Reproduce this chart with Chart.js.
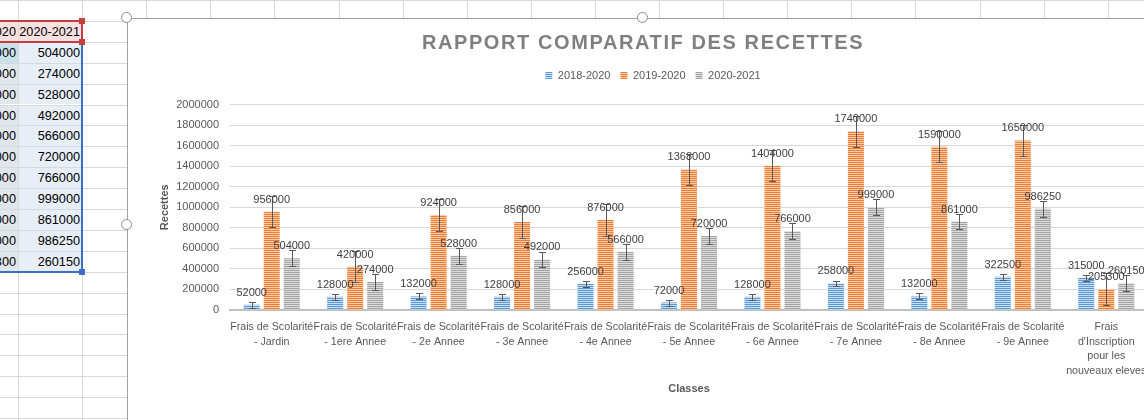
<!DOCTYPE html>
<html>
<head>
<meta charset="utf-8">
<script src="https://cdn.jsdelivr.net/npm/chart.js@4.4.1/dist/chart.umd.min.js"></script>
<style>
html,body{margin:0;padding:0;width:1144px;height:420px;overflow:hidden;background:#fff;font-family:'Liberation Sans',Arial,sans-serif;}
#sheet{position:absolute;left:0;top:0;width:1144px;height:420px;z-index:0;}
.gl{position:absolute;background:#D9D9D9;}
.cell{position:absolute;box-sizing:border-box;font-size:12.7px;color:#000;text-align:right;padding-right:2px;overflow:hidden;white-space:nowrap;}
#chartBox{position:absolute;left:127px;top:18px;width:1032px;height:414px;background:#fff;z-index:2;}
#chartBox canvas{position:absolute;left:0;top:0;}
.frame{position:absolute;background:#A0A0A0;z-index:3;}
.handle{position:absolute;width:9px;height:9px;border:1.5px solid #8C8C8C;border-radius:50%;background:#fff;z-index:4;}
.sq{position:absolute;width:6px;height:6px;z-index:4;}
</style>
</head>
<body>
<div id="sheet"></div>
<div id="chartBox"><canvas id="c" width="1032" height="414"></canvas></div>
<div class="frame" style="left:127px;top:18px;width:1017px;height:1px;"></div>
<div class="frame" style="left:127px;top:18px;width:1px;height:402px;"></div>
<div class="handle" style="left:121px;top:12px;"></div>
<div class="handle" style="left:637px;top:12px;"></div>
<div class="handle" style="left:121px;top:219px;"></div>
<script>
// ---------- data ----------
const categoryLabels = [
  ["Frais de Scolarité", "- Jardin"],
  ["Frais de Scolarité", "- 1ere Annee"],
  ["Frais de Scolarité", "- 2e Annee"],
  ["Frais de Scolarité", "- 3e Annee"],
  ["Frais de Scolarité", "- 4e Annee"],
  ["Frais de Scolarité", "- 5e Annee"],
  ["Frais de Scolarité", "- 6e Annee"],
  ["Frais de Scolarité", "- 7e Annee"],
  ["Frais de Scolarité", "- 8e Annee"],
  ["Frais de Scolarité", "- 9e Annee"],
  ["Frais", "d'Inscription", "pour les", "nouveaux eleves"]
];
const seriesNames = ["2018-2020", "2019-2020", "2020-2021"];
const values2018_2020 = [52000, 128000, 132000, 128000, 256000, 72000, 128000, 258000, 132000, 322500, 315000];
const values2019_2020 = [956000, 420000, 924000, 856000, 876000, 1368000, 1404000, 1740000, 1590000, 1650000, 205300];
const values2020_2021 = [504000, 274000, 528000, 492000, 566000, 720000, 766000, 999000, 861000, 986250, 260150];
const errorAmounts = [29000, 152000, 77000];
const yTickLabels = ["0", "200000", "400000", "600000", "800000", "1000000", "1200000", "1400000", "1600000", "1800000", "2000000"];
const chartTitle = "RAPPORT COMPARATIF DES RECETTES";
const xTitle = "Classes";
const yTitle = "Recettes";
const seriesColors = ["#5B9BD5", "#ED7D31", "#A5A5A5"];
const seriesTints = ["#C8DDF1", "#F8CBAD", "#DBDBDB"];

// ---------- spreadsheet background ----------
const sheet = document.getElementById('sheet');
function addDiv(cls, style, text) {
  const d = document.createElement('div');
  d.className = cls;
  Object.assign(d.style, style);
  if (text !== undefined) d.textContent = text;
  sheet.appendChild(d);
  return d;
}
const colW = 64.1, rowH = 20.9;
for (let k = 0; k < 18; k++) addDiv('gl', {left: (18 + colW * k) + 'px', top: '0px', width: '1px', height: '420px'});
for (let k = 0; k < 21; k++) addDiv('gl', {left: '0px', top: (rowH * k) + 'px', width: '1144px', height: '1px'});

const colA = [seriesNames[1]].concat(values2019_2020.map(String));
const colB = [seriesNames[2]].concat(values2020_2021.map(String));
for (let r = 0; r < colA.length; r++) {
  const top = rowH * (r + 1);
  const bgA = r === 0 ? '#F9E1E1' : (r === 1 ? '#C9E2EA' : '#E1E6EC');
  const bgB = r === 0 ? '#F9E1E1' : '#E7EEF8';
  addDiv('cell', {left: '-46px', top: (top + 1) + 'px', width: '64px', height: (rowH - 1) + 'px', lineHeight: (rowH + 1) + 'px', background: bgA}, colA[r]);
  addDiv('cell', {left: '19px', top: (top + 1) + 'px', width: '63px', height: (rowH - 1) + 'px', lineHeight: (rowH + 1) + 'px', background: bgB}, colB[r]);
}
// selection borders
addDiv('sq', {left: '-2px', top: (rowH - 1) + 'px', width: '84px', height: '2px', background: '#C43E3E'});
addDiv('sq', {left: '-2px', top: (rowH * 2 - 1) + 'px', width: '84px', height: '2px', background: '#C43E3E'});
addDiv('sq', {left: '81px', top: (rowH - 1) + 'px', width: '2px', height: (rowH + 1) + 'px', background: '#C43E3E'});
addDiv('sq', {left: '81px', top: (rowH * 2) + 'px', width: '2px', height: (rowH * 11) + 'px', background: '#3B6FC6'});
addDiv('sq', {left: '-2px', top: (rowH * 13 - 1) + 'px', width: '84px', height: '2px', background: '#3B6FC6'});
addDiv('sq', {left: '79px', top: (rowH - 3) + 'px', background: '#C43E3E'});
addDiv('sq', {left: '79px', top: (rowH * 2 - 3) + 'px', background: '#C43E3E'});
addDiv('sq', {left: '79px', top: (rowH * 13 - 3) + 'px', background: '#3B6FC6'});

// ---------- chart ----------
const FONT = "'Liberation Sans', Arial, sans-serif";
Chart.defaults.font.family = FONT;

function stripe(color, tint) {
  const c = document.createElement('canvas');
  c.width = 4; c.height = 2;
  const x = c.getContext('2d');
  x.fillStyle = tint; x.fillRect(0, 0, 4, 2);
  x.fillStyle = color; x.fillRect(0, 0, 4, 1);
  return x.createPattern(c, 'repeat');
}

const legendGap = {
  id: 'legendGap',
  beforeLayout(chart) {
    const lg = chart.legend;
    if (lg && !lg.__patched) {
      const f = lg.fit;
      lg.fit = function () { f.call(this); this.height += 13.5; };
      lg.__patched = true;
    }
  }
};

const barExtras = {
  id: 'barExtras',
  afterDatasetsDraw(chart) {
    const ctx = chart.ctx, ys = chart.scales.y;
    ctx.save();
    chart.data.datasets.forEach((ds, di) => {
      const meta = chart.getDatasetMeta(di);
      const err = errorAmounts[di];
      ctx.strokeStyle = '#595959';
      ctx.lineWidth = 1;
      meta.data.forEach((bar, i) => {
        const v = ds.data[i];
        const yt = Math.round(ys.getPixelForValue(v + err)) + 0.5;
        const yb = Math.round(ys.getPixelForValue(v - err)) + 0.5;
        const x = Math.round(bar.x) + 0.5;
        ctx.beginPath();
        ctx.moveTo(x, yt); ctx.lineTo(x, yb);
        ctx.moveTo(x - 3.5, yt); ctx.lineTo(x + 3.5, yt);
        ctx.moveTo(x - 3.5, yb); ctx.lineTo(x + 3.5, yb);
        ctx.stroke();
      });
    });
    ctx.font = "11px " + FONT;
    ctx.fillStyle = '#404040';
    ctx.textAlign = 'center';
    ctx.textBaseline = 'alphabetic';
    chart.data.datasets.forEach((ds, di) => {
      const meta = chart.getDatasetMeta(di);
      meta.data.forEach((bar, i) => {
        ctx.fillText(String(ds.data[i]), bar.x, bar.y - 9);
      });
    });
    ctx.restore();
  },
  afterDraw(chart) {
    const ctx = chart.ctx;
    ctx.save();
    ctx.font = "bold 20px " + FONT;
    ctx.fillStyle = '#7F7F7F';
    try { ctx.letterSpacing = '1.6px'; } catch (e) {}
    ctx.textAlign = 'center';
    ctx.textBaseline = 'middle';
    ctx.fillText(chartTitle, 516, 25);
    ctx.restore();
  }
};

const seriesValues = [values2018_2020, values2019_2020, values2020_2021];

new Chart(document.getElementById('c'), {
  type: 'bar',
  data: {
    labels: categoryLabels,
    datasets: seriesNames.map((name, i) => ({
      label: name,
      data: seriesValues[i],
      backgroundColor: stripe(seriesColors[i], seriesTints[i]),
      borderWidth: 0,
      categoryPercentage: 0.72,
      barPercentage: 0.8
    }))
  },
  options: {
    responsive: false,
    animation: false,
    devicePixelRatio: 1,
    layout: {padding: {top: 42, left: 31, right: 11, bottom: 36}},
    plugins: {
      title: {display: false},
      tooltip: {enabled: false},
      legend: {
        display: true,
        position: 'top',
        labels: {boxWidth: 7, boxHeight: 7, padding: 10, color: '#595959', font: {size: 11, family: FONT}}
      }
    },
    scales: {
      x: {
        grid: {display: false, drawTicks: false},
        border: {display: true, color: '#BFBFBF', width: 2},
        ticks: {autoSkip: false, maxRotation: 0, minRotation: 0, padding: 9.5, color: '#595959', font: {size: 10.7, family: FONT, lineHeight: 1.38}},
        title: {display: true, text: xTitle, color: '#595959', font: {size: 11, weight: 'bold', family: FONT}, padding: {top: 0, bottom: 0}},
        afterFit(scale) { scale.height = 86; }
      },
      y: {
        min: 0, max: 2000000,
        grid: {color: '#D9D9D9', lineWidth: 1, drawTicks: false},
        border: {display: false},
        ticks: {stepSize: 200000, padding: 11, color: '#595959', font: {size: 11, family: FONT},
          callback: (v, i) => yTickLabels[i]},
        title: {display: true, text: yTitle, color: '#595959', font: {size: 11, weight: 'bold', family: FONT}, padding: {top: 0, bottom: 0}},
        afterFit(scale) { scale.width = 72; }
      }
    }
  },
  plugins: [legendGap, barExtras]
});
</script>
</body>
</html>
